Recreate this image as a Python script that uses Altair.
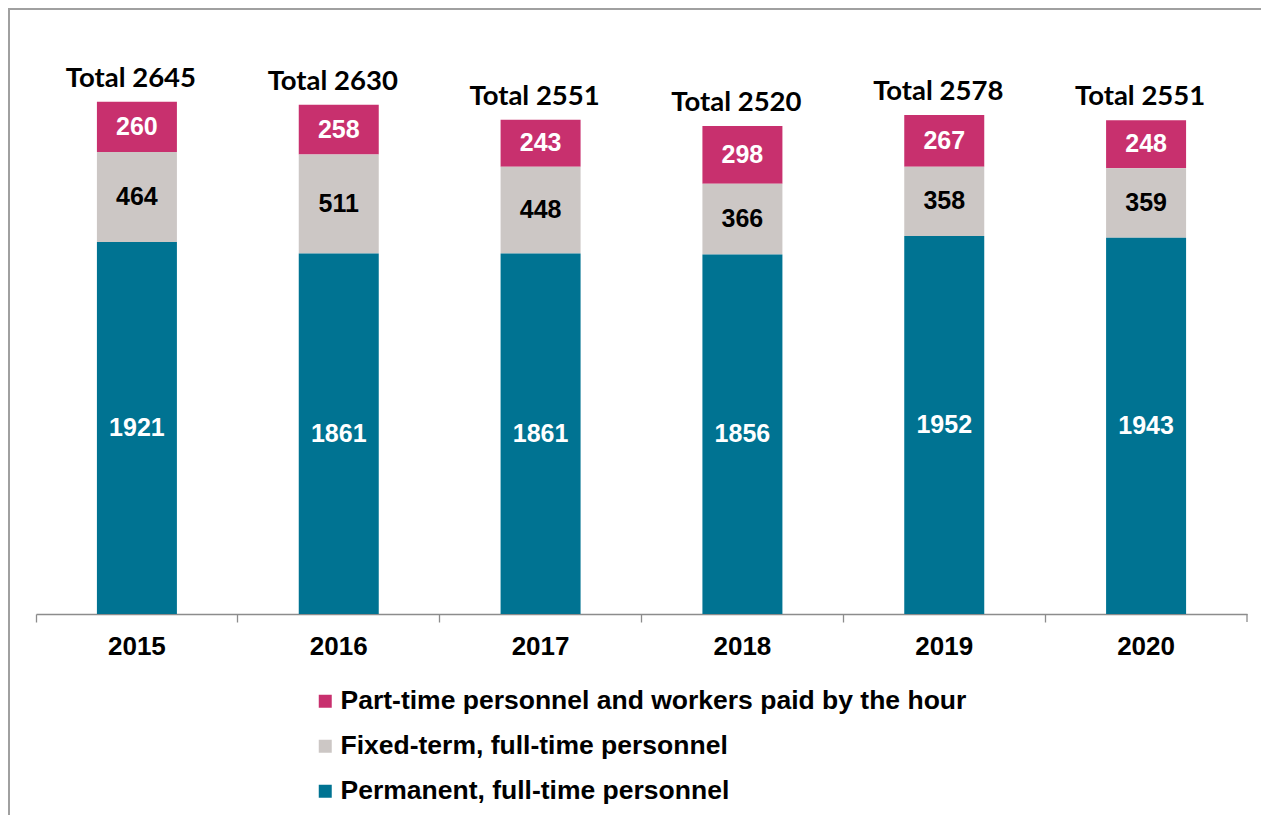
import altair as alt
import pandas as pd

years = ["2015", "2016", "2017", "2018", "2019", "2020"]
permanent = [1921, 1861, 1861, 1856, 1952, 1943]
fixed_term = [464, 511, 448, 366, 358, 359]
part_time = [260, 258, 243, 298, 267, 248]
totals = [2645, 2630, 2551, 2520, 2578, 2551]

series_names = [
    "Part-time personnel and workers paid by the hour",
    "Fixed-term, full-time personnel",
    "Permanent, full-time personnel",
]
series_colors = ["#C8306E", "#CCC7C5", "#007392"]
text_colors = ["#FFFFFF", "#000000", "#FFFFFF"]
stack_order = [3, 2, 1]

rows = []
for i, y in enumerate(years):
    for name, vals, tc, so in zip(series_names, [part_time, fixed_term, permanent], text_colors, stack_order):
        rows.append({"year": y, "series": name, "value": vals[i], "tcolor": tc, "ord": so})
df = pd.DataFrame(rows)
tot_df = pd.DataFrame({"year": years, "total": totals, "label": [f"Total {t}" for t in totals]})

W, H = 1211, 581

x_enc = alt.X(
    "year:N", sort=years, title=None,
    scale=alt.Scale(paddingInner=0, paddingOuter=0),
    axis=alt.Axis(
        bandPosition=0, labelAngle=0, labelFont="Liberation Sans", labelFontSize=26,
        labelFontWeight="bold", labelColor="#000000", labelPadding=11,
        ticks=True, tickSize=8, tickColor="#8C8C8C", domainColor="#8C8C8C",
        domainWidth=1.3, tickWidth=1.3, grid=False, labelBound=False,
    ),
)
y_scale = alt.Scale(domain=[0, 3000], nice=False)

bars = alt.Chart(df).mark_bar(width=80).encode(
    x=x_enc,
    y=alt.Y("value:Q", stack="zero", scale=y_scale, axis=None),
    color=alt.Color(
        "series:N",
        scale=alt.Scale(domain=series_names, range=series_colors),
        legend=alt.Legend(
            title=None, orient="none", legendX=276, legendY=655,
            symbolType="square", symbolSize=169, symbolStrokeWidth=0,
            labelFont="Liberation Sans", labelFontSize=26.5, labelFontWeight="bold",
            labelColor="#000000", labelOffset=2, rowPadding=18, labelLimit=900,
        ),
    ),
    order=alt.Order("ord:Q", sort="ascending"),
)

seg_text = alt.Chart(df).transform_stack(
    stack="value", groupby=["year"], as_=["v0", "v1"],
    sort=[alt.SortField("ord", order="ascending")],
).transform_calculate(
    mid="(datum.v0 + datum.v1) / 2"
).mark_text(
    font="Liberation Sans", fontSize=25, fontWeight="bold", baseline="middle", align="center"
).encode(
    x=alt.X("year:N", sort=years),
    y=alt.Y("mid:Q", scale=y_scale),
    text=alt.Text("value:Q"),
    color=alt.Color("tcolor:N", scale=None),
)

tot_text = alt.Chart(tot_df).mark_text(
    font="Lato", fontSize=27.5, fontWeight="bold", baseline="alphabetic", align="center",
    dy=-15, dx=-6, color="#000000",
).encode(
    x=alt.X("year:N", sort=years),
    y=alt.Y("total:Q", scale=y_scale),
    text="label:N",
)

end_tick = alt.Chart(tot_df.head(1)).mark_rule(color="#8C8C8C", strokeWidth=1.3).encode(
    x=alt.value(W), y=alt.value(H), y2=alt.value(H + 8)
)

frame = alt.Chart(tot_df.head(1)).mark_rect(
    fill="transparent", stroke="#A0A0A0", strokeWidth=2, clip=False
).encode(
    x=alt.value(-27), x2=alt.value(W + 80), y=alt.value(-24), y2=alt.value(H + 260)
)

chart = alt.layer(frame, bars, seg_text, tot_text, end_tick).properties(
    width=W, height=H,
    autosize=alt.AutoSizeParams(type="none"),
    padding={"left": 28, "top": 25, "right": 14, "bottom": 201},
).configure(background="#FFFFFF", view=alt.ViewConfig(stroke=None))

chart.save("out.html", embed_options={"renderer": "svg", "actions": False})
